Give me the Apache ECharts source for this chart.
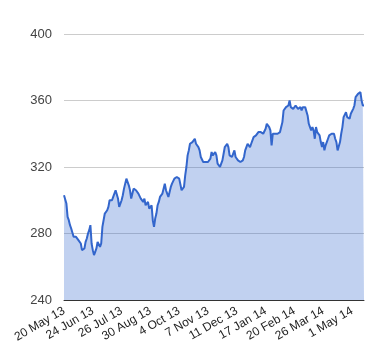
<!DOCTYPE html>
<html>
<head>
<meta charset="utf-8">
<script src="https://cdn.jsdelivr.net/npm/echarts@6/dist/echarts.min.js"></script>
<style>
html,body{margin:0;padding:0;background:#fff;}
#chart{width:380px;height:360px;}
</style>
</head>
<body>
<div id="chart"></div>
<script>
var tickLabels = ['20 May 13','24 Jun 13','26 Jul 13','30 Aug 13','4 Oct 13','7 Nov 13','11 Dec 13','17 Jan 14','20 Feb 14','26 Mar 14','1 May 14'];
var yTicks = [240, 280, 320, 360, 400];
var prices = [
303,302,298,290,288,285,283,282,278,279,278,277,276,276,274,270,270,271,275,277,
280,282,285,274,270,267,269,271,275,276,272,274,284,283,292,293,294,296,300,301,
300,302,302,306,307,301,296,297,300,303,307,310,313,312,309,306,301,304,307,307,
306,305,304,303,301,300,299,301,297,298,299,295,294,297,288,284,289,292,297,299,
302,303,304,307,310,306,304,302,305,308,310,311,313,313,314,313,313,312,306,307,
308,315,320,327,330,334,335,335,336,337,334,333,332,330,326,325,323,322,323,322,
323,324,325,329,327,328,329,327,322,321,320,322,324,328,332,333,334,332,327,326,
326,328,330,326,325,324,324,323,322,324,326,330,332,334,334,332,334,335,338,339,
339,340,341,342,341,340,340,341,343,346,345,344,342,333,340,341,340,339,340,341,
341,344,347,354,355,356,356,357,360,356,355,355,354,357,356,355,356,356,354,356,
357,356,355,351,346,344,342,344,342,337,344,341,340,339,335,332,335,330,333,335,
337,339,340,340,339,340,337,335,330,331,335,340,344,350,351,353,350,349,349,352,
353,355,357,362,363,364,364,365,360,357,357
];
var LABEL_STEP = 24;
var categories = prices.map(function (_, i) { return String(i); });

var chart = echarts.init(document.getElementById('chart'), null, {renderer: 'canvas'});
chart.setOption({
  animation: false,
  backgroundColor: '#ffffff',
  grid: {left: 64, right: 16, top: 34, bottom: 60},
  xAxis: {
    type: 'category',
    data: categories,
    boundaryGap: false,
    axisLine: {show: true, lineStyle: {color: '#333333', width: 1}},
    axisTick: {show: false},
    splitLine: {show: false},
    axisLabel: {
      interval: LABEL_STEP - 1,
      rotate: 30,
      margin: 10,
      color: '#222222',
      fontFamily: 'Liberation Sans, Arial, sans-serif',
      fontSize: 12,
      formatter: function (v) {
        var i = parseInt(v, 10);
        return (i % LABEL_STEP === 0) ? (tickLabels[i / LABEL_STEP] || '') : '';
      }
    }
  },
  yAxis: {
    type: 'value',
    min: yTicks[0],
    max: yTicks[yTicks.length - 1],
    interval: 40,
    axisLine: {show: false},
    axisTick: {show: false},
    splitLine: {show: true, lineStyle: {color: '#cccccc', width: 1}},
    axisLabel: {
      margin: 12,
      color: '#444444',
      fontFamily: 'Liberation Sans, Arial, sans-serif',
      fontSize: 13
    }
  },
  series: [{
    type: 'line',
    data: prices,
    showSymbol: false,
    symbol: 'none',
    lineStyle: {color: '#3366cc', width: 2},
    itemStyle: {color: '#3366cc'},
    areaStyle: {color: '#3366cc', opacity: 0.3}
  }]
});
</script>
</body>
</html>
